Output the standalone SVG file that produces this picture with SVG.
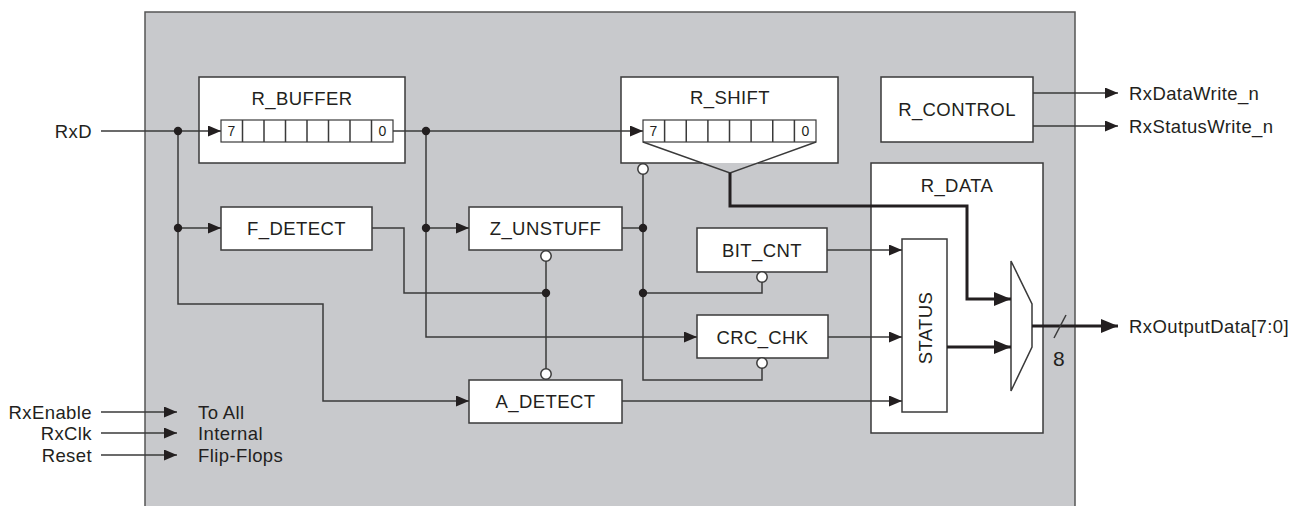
<svg xmlns="http://www.w3.org/2000/svg" width="1299" height="506" viewBox="0 0 1299 506">
<style>
text{font-family:"Liberation Sans",Arial,sans-serif;font-size:18.5px;fill:#231f20;letter-spacing:0.4px}
.c{text-anchor:middle;dominant-baseline:central}
.r{text-anchor:end;dominant-baseline:central}
.l{text-anchor:start;dominant-baseline:central}
.small{font-size:14px;letter-spacing:0}
.box{fill:#fff;stroke:#3a3a3a;stroke-width:1.5}
.ln{fill:none;stroke:#3a3a3a;stroke-width:1.5}
.thk{fill:none;stroke:#231f20;stroke-width:3}
.dot{fill:#231f20}
.bub{fill:#fff;stroke:#3a3a3a;stroke-width:1.5}
</style>
<defs>
<marker id="a" markerUnits="userSpaceOnUse" markerWidth="13" markerHeight="11" refX="13" refY="5.5" orient="auto"><path d="M0,0 L13,5.5 L0,11 z" fill="#231f20"/></marker>
<marker id="A" markerUnits="userSpaceOnUse" markerWidth="17" markerHeight="14" refX="17" refY="7" orient="auto"><path d="M0,0 L17,7 L0,14 z" fill="#231f20"/></marker>
</defs>
<rect x="145" y="12" width="930" height="500" fill="#c8c9cc" stroke="#555" stroke-width="1.5"/>

<g id="r_buffer">
<rect class="box" x="199" y="77" width="206" height="86"/>
<text class="c" x="302" y="98">R_BUFFER</text>
<rect x="221" y="120" width="172" height="22" fill="#fff" stroke="#3a3a3a" stroke-width="1.2"/>
<path class="ln" stroke-width="1.2" d="M242.5,120V142M264,120V142M285.5,120V142M307,120V142M328.5,120V142M350,120V142M371.5,120V142"/>
<text class="c small" x="231.5" y="131">7</text>
<text class="c small" x="382.5" y="131">0</text>
</g>

<g id="r_shift">
<rect x="621" y="77" width="217" height="86" fill="#fff"/>
<path class="ln" d="M702,163 H621 V77 H838 V163 H758"/>
<text class="c" x="730" y="97">R_SHIFT</text>
<rect x="643" y="120" width="173" height="22" fill="#fff" stroke="#3a3a3a" stroke-width="1.2"/>
<path class="ln" stroke-width="1.2" d="M664.6,120V142M686.25,120V142M707.9,120V142M729.5,120V142M751.1,120V142M772.75,120V142M794.4,120V142"/>
<text class="c small" x="653.5" y="131">7</text>
<text class="c small" x="805.5" y="131">0</text>
<path class="ln" d="M643,142 L730,173 L816,142"/>
</g>

<g id="r_control">
<rect class="box" x="881" y="77" width="152" height="65"/>
<text class="c" x="957" y="109">R_CONTROL</text>
</g>

<g id="f_detect">
<rect class="box" x="221" y="207" width="151" height="43"/>
<text class="c" x="296.5" y="228.5">F_DETECT</text>
</g>

<g id="z_unstuff">
<rect class="box" x="469" y="207" width="153" height="43"/>
<text class="c" x="545.5" y="228.5">Z_UNSTUFF</text>
</g>

<g id="a_detect">
<rect class="box" x="469" y="380" width="153" height="43"/>
<text class="c" x="545.5" y="401.5">A_DETECT</text>
</g>

<g id="bit_cnt">
<rect class="box" x="697" y="228" width="130" height="44"/>
<text class="c" x="762" y="250">BIT_CNT</text>
</g>

<g id="crc_chk">
<rect class="box" x="697" y="315" width="131" height="43"/>
<text class="c" x="762.5" y="337">CRC_CHK</text>
</g>

<g id="r_data">
<rect class="box" x="871" y="163" width="172" height="270"/>
<text class="c" x="957" y="185">R_DATA</text>
</g>

<g id="status">
<rect class="box" x="902" y="239" width="45" height="173"/>
<text class="c" transform="translate(925,328) rotate(-90)" x="0" y="0">STATUS</text>
</g>

<g id="mux">
<path class="ln" d="M1011,261 V391 L1032,347 V304 Z" fill="#fff"/>
</g>

<g id="connectors">
<path class="ln" d="M101,131 H221" marker-end="url(#a)"/>
<path class="ln" d="M178,131 V304 H323 V401 H469" marker-end="url(#a)"/>
<path class="ln" d="M178,228 H221" marker-end="url(#a)"/>
<path class="ln" d="M393,131 H643" marker-end="url(#a)"/>
<path class="ln" d="M426,131 V337 H697" marker-end="url(#a)"/>
<path class="ln" d="M426,228 H469" marker-end="url(#a)"/>
<path class="ln" d="M372,228 H404 V293 H546"/>
<path class="ln" d="M546,261 V369"/>
<path class="ln" d="M622,228 H643"/>
<path class="ln" d="M643,174 V380 H762 V368"/>
<path class="ln" d="M643,293 H762 V282"/>
<path class="ln" d="M827,250 H902" marker-end="url(#a)"/>
<path class="ln" d="M828,337 H902" marker-end="url(#a)"/>
<path class="ln" d="M622,401 H902" marker-end="url(#a)"/>
<path class="thk" d="M730,173 V206 H967 V299 H1011" marker-end="url(#A)"/>
<path class="thk" d="M947,347 H1011" marker-end="url(#A)"/>
<path class="thk" d="M1032,326 H1118" marker-end="url(#A)"/>
<path class="ln" d="M1054,338 L1066,315"/>
<path class="ln" d="M1033,93 H1118" marker-end="url(#a)"/>
<path class="ln" d="M1033,126 H1118" marker-end="url(#a)"/>
<path class="ln" d="M101,412 H177" marker-end="url(#a)"/>
<path class="ln" d="M101,433 H177" marker-end="url(#a)"/>
<path class="ln" d="M101,455 H177" marker-end="url(#a)"/>
<circle class="dot" cx="178" cy="131" r="4.2"/>
<circle class="dot" cx="178" cy="228" r="4.2"/>
<circle class="dot" cx="426" cy="131" r="4.2"/>
<circle class="dot" cx="426" cy="228" r="4.2"/>
<circle class="dot" cx="546" cy="293" r="4.2"/>
<circle class="dot" cx="643" cy="228" r="4.2"/>
<circle class="dot" cx="643" cy="293" r="4.2"/>
<circle class="bub" cx="643" cy="169" r="5.2"/>
<circle class="bub" cx="546" cy="256" r="5.2"/>
<circle class="bub" cx="546" cy="374" r="5.2"/>
<circle class="bub" cx="762" cy="277" r="5.2"/>
<circle class="bub" cx="762" cy="363" r="5.2"/>
</g>

<text class="r" x="92" y="131">RxD</text>
<text class="r" x="92" y="412">RxEnable</text>
<text class="r" x="92" y="433">RxClk</text>
<text class="r" x="92" y="455">Reset</text>
<text class="l" x="198" y="412">To All</text>
<text class="l" x="198" y="433">Internal</text>
<text class="l" x="198" y="455">Flip-Flops</text>
<text class="l" x="1129" y="93">RxDataWrite_n</text>
<text class="l" x="1129" y="126">RxStatusWrite_n</text>
<text class="l" x="1129" y="326">RxOutputData[7:0]</text>
<text class="c" x="1059" y="358" style="font-size:21px">8</text>
</svg>
